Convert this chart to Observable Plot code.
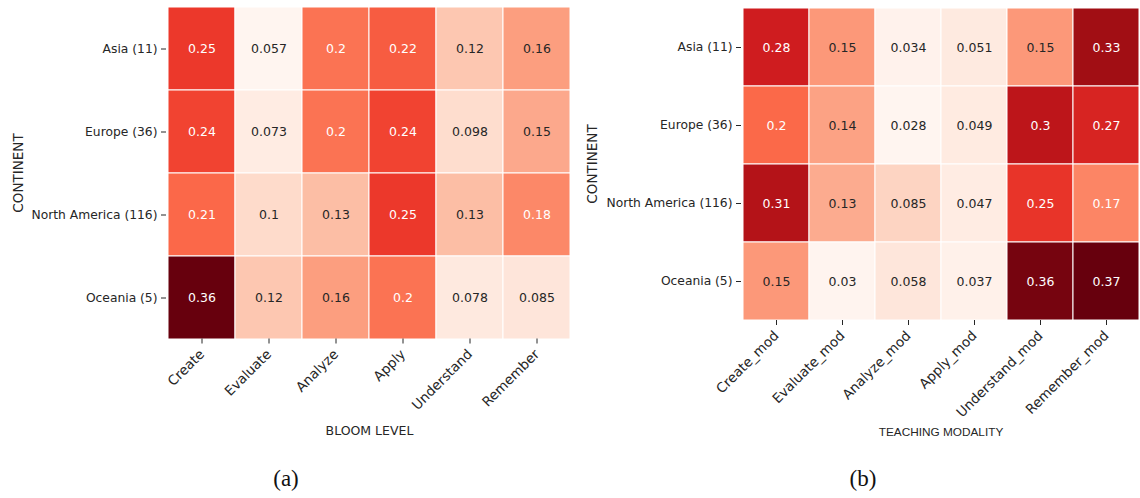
<!DOCTYPE html>
<html>
<head>
<meta charset="utf-8">
<script src="https://cdn.jsdelivr.net/npm/d3@7"></script>
<script src="https://cdn.jsdelivr.net/npm/@observablehq/plot@0.6"></script>
<style>
  body { margin: 0; background: #fff; width: 1140px; height: 498px; overflow: hidden; position: relative; }
  .panel { position: absolute; top: 0; }
  .sub { position: absolute; font-family: "Liberation Serif", "DejaVu Serif", serif; font-size: 23px; color: #111; transform: translateX(-50%); }
</style>
</head>
<body>
<div id="left" class="panel" style="left:0px"></div>
<div id="right" class="panel" style="left:575px"></div>
<div class="sub" style="left:286px; top:466px">(a)</div>
<div class="sub" style="left:863px; top:466px">(b)</div>
<script>
const continents = ["Asia (11)", "Europe (36)", "North America (116)", "Oceania (5)"];
const bloomLevels = ["Create", "Evaluate", "Analyze", "Apply", "Understand", "Remember"];
const modalities = ["Create_mod", "Evaluate_mod", "Analyze_mod", "Apply_mod", "Understand_mod", "Remember_mod"];
const bloomValues = [
  [0.25, 0.057, 0.2, 0.22, 0.12, 0.16],
  [0.24, 0.073, 0.2, 0.24, 0.098, 0.15],
  [0.21, 0.1, 0.13, 0.25, 0.13, 0.18],
  [0.36, 0.12, 0.16, 0.2, 0.078, 0.085]
];
const modValues = [
  [0.28, 0.15, 0.034, 0.051, 0.15, 0.33],
  [0.2, 0.14, 0.028, 0.049, 0.3, 0.27],
  [0.31, 0.13, 0.085, 0.047, 0.25, 0.17],
  [0.15, 0.03, 0.058, 0.037, 0.36, 0.37]
];
const REDS = ["#fff5f0","#fee0d2","#fcbba1","#fc9272","#fb6a4a","#ef3b2c","#cb181d","#a50f15","#67000d"];
const fmt = d3.format(".2~g");

function lum(c) {
  const r = d3.rgb(c);
  const f = v => { v /= 255; return v <= 0.03928 ? v / 12.92 : Math.pow((v + 0.055) / 1.055, 2.4); };
  return 0.2126 * f(r.r) + 0.7152 * f(r.g) + 0.0722 * f(r.b);
}

function heatmap(cols, values, opts) {
  const data = [];
  continents.forEach((c, i) => cols.forEach((k, j) => data.push({row: c, col: k, v: values[i][j]})));
  const mn = d3.min(data, d => d.v), mx = d3.max(data, d => d.v);
  const domain = d3.range(9).map(i => mn + (mx - mn) * i / 8);
  const cs = d3.scaleLinear().domain(domain).range(REDS).interpolate(d3.interpolateRgb);
  const svg = Plot.plot({
    width: opts.width,
    height: 450,
    marginLeft: opts.ml,
    marginRight: opts.mr,
    marginTop: opts.mt,
    marginBottom: opts.mb,
    style: {fontFamily: "DejaVu Sans", fontSize: "12px", color: "#262626", background: "white"},
    x: {domain: cols, padding: 0},
    y: {domain: continents, padding: 0},
    color: {type: "linear", domain, range: REDS, interpolate: "rgb"},
    marks: [
      Plot.cell(data, {x: "col", y: "row", fill: "v", stroke: "white", strokeWidth: 1}),
      Plot.text(data, {x: "col", y: "row", text: d => fmt(d.v), fontSize: 12.5, ariaLabel: "annotations",
        fill: d => lum(cs(d.v)) > 0.408 ? "#262626" : "white"}),
      Plot.axisX({tickRotate: -45, tickSize: 5, tickPadding: 8, fontSize: 13.5, label: null}),
      Plot.axisY({tickSize: 5, tickPadding: 4, fontSize: 12.3, label: null}),
      Plot.text([opts.xlabel], {text: d => d, frameAnchor: "bottom", lineAnchor: "middle",
        textAnchor: "middle", dy: opts.xoff, fontSize: opts.xfs, fontFamily: opts.xff, fill: "#262626"}),
      Plot.text(["CONTINENT"], {text: d => d, frameAnchor: "left", lineAnchor: "middle", ariaLabel: "ytitle",
        textAnchor: "middle", rotate: -90, dx: -opts.yoff, fontSize: 13.5, fill: "#262626"})
    ]
  });
  // mimic the reference's slight vertical stretch of text
  svg.querySelectorAll('g[aria-label="ytitle"] text').forEach(t => {
    t.setAttribute("transform", (t.getAttribute("transform") || "") + " scale(1.2,1)");
  });
  svg.querySelectorAll('g[aria-label="annotations"] text').forEach(t => {
    t.setAttribute("transform", (t.getAttribute("transform") || "") + " scale(1,1.12)");
  });
  return svg;
}

document.getElementById("left").appendChild(heatmap(bloomLevels, bloomValues,
  {width: 575, ml: 166, mr: 3, mt: 6.5, mb: 111.5, xlabel: "BLOOM LEVEL", xoff: 91.5, yoff: 148,
   xfs: 12.5, xff: "DejaVu Sans"}));
document.getElementById("right").appendChild(heatmap(modalities, modValues,
  {width: 565, ml: 166, mr: 0, mt: 7, mb: 130, xlabel: "TEACHING MODALITY", xoff: 112, yoff: 149,
   xfs: 11.8, xff: "Liberation Sans"}));
</script>
</body>
</html>
